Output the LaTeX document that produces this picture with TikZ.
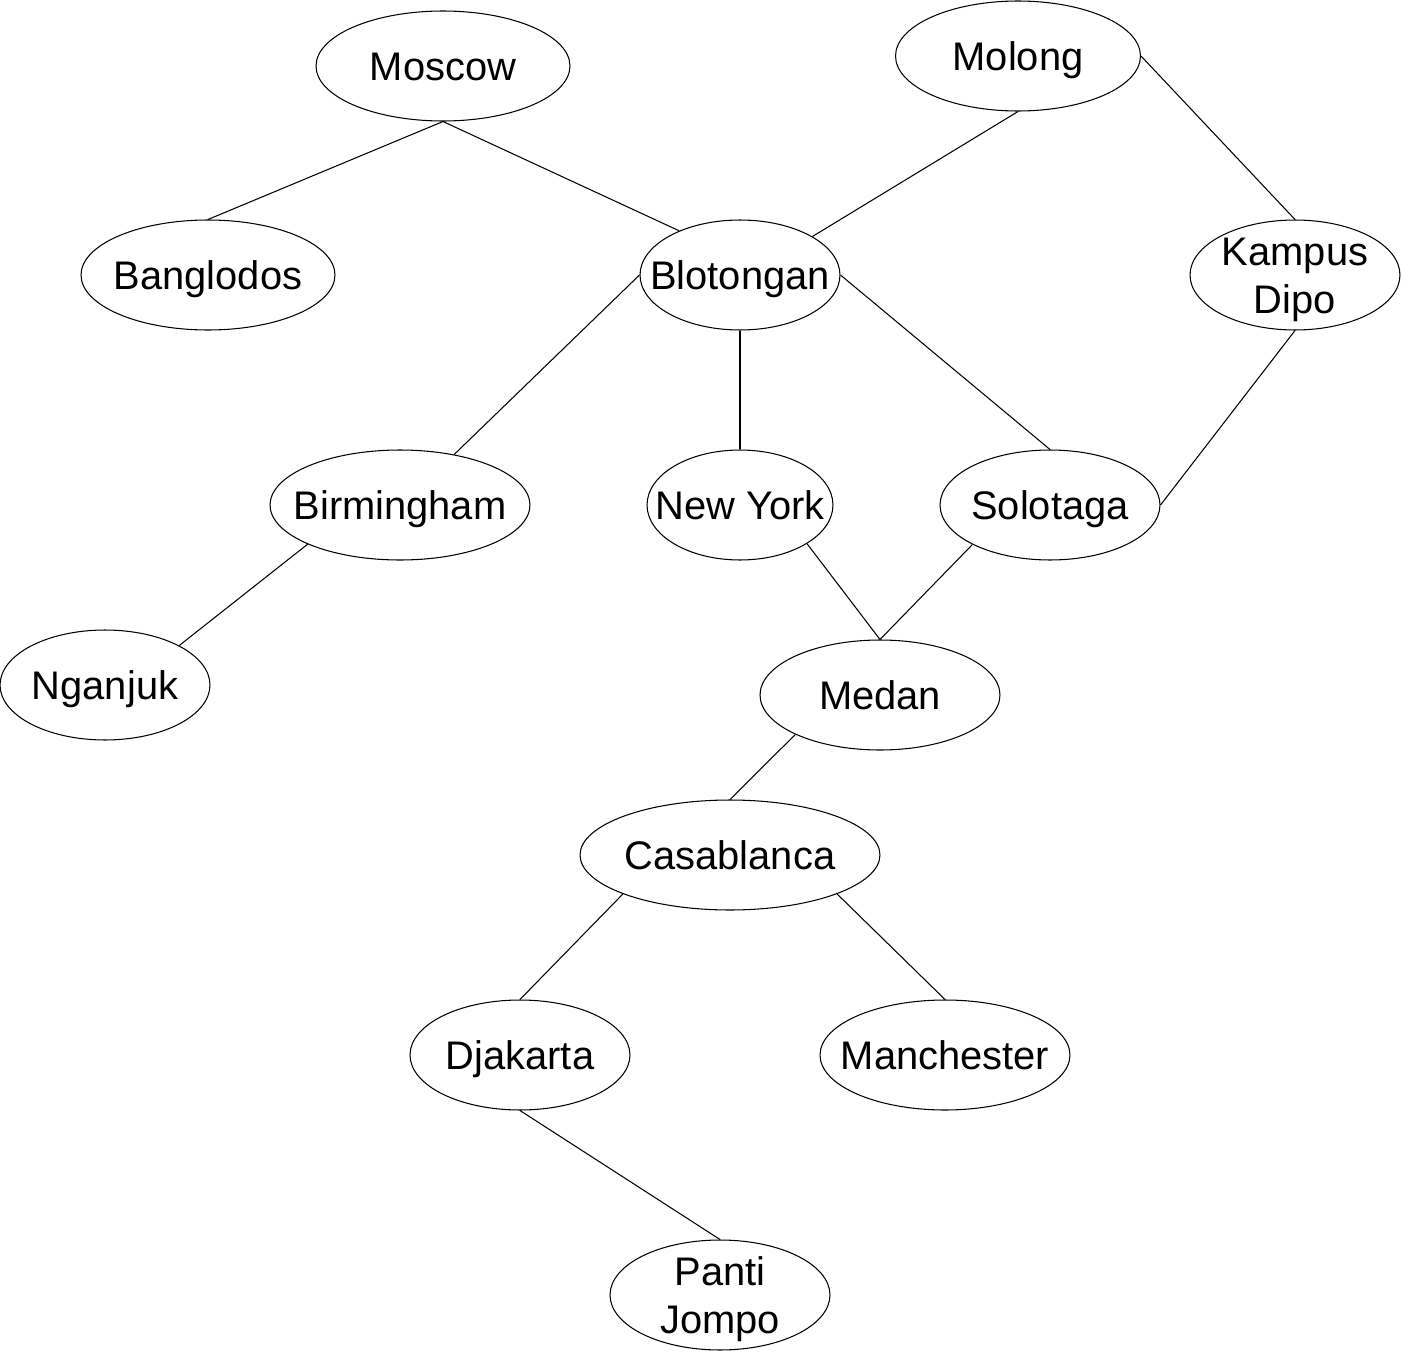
\documentclass[tikz,border=0pt]{standalone}
\usepackage{fontspec}
\setmainfont{Liberation Sans}
\usetikzlibrary{shapes.geometric}
% text of a city, kept out of the size of its ellipse
\newcommand\cityname[1]{\makebox[0pt]{\smash{\raisebox{-0.35em}{\begin{tabular}{@{}c@{}}#1\end{tabular}}}}}
\tikzset{
    city/.style={ellipse, draw, line width=0.6pt, inner sep=0pt,
        minimum height=2.2cm, minimum width=#1,
        font=\fontsize{22.7pt}{27.3pt}\selectfont},
    road/.style={line width=0.6pt}
}
\begin{document}
\begin{tikzpicture}[x=0.02cm, y=-0.02cm]
        \useasboundingbox (0,0) rectangle (1401,1352);
        % top row
        \node[city=5.08cm] (Moscow) at (443,66) {\cityname{Moscow}};
        \node[city=4.9cm] (Molong) at (1018,56) {\cityname{Molong}};
        % second row
        \node[city=5.08cm] (Banglodos) at (208,275) {\cityname{Banglodos}};
        \node[city=4cm] (Blotongan) at (740,275) {\cityname{Blotongan}};
        \node[city=4.2cm] (KampusDipo) at (1295,275) {\cityname{Kampus\\Dipo}};
        % third row
        \node[city=5.2cm] (Birmingham) at (400,505) {\cityname{Birmingham}};
        \node[city=3.72cm] (NewYork) at (740,505) {\cityname{New York}};
        \node[city=4.4cm] (Solotaga) at (1050,505) {\cityname{Solotaga}};
        % lower part
        \node[city=4.2cm] (Nganjuk) at (105,685) {\cityname{Nganjuk}};
        \node[city=4.8cm] (Medan) at (880,695) {\cityname{Medan}};
        \node[city=6cm] (Casablanca) at (730,855) {\cityname{Casablanca}};
        \node[city=4.4cm] (Djakarta) at (520,1055) {\cityname{Djakarta}};
        \node[city=5cm] (Manchester) at (945,1055) {\cityname{Manchester}};
        \node[city=4.4cm] (PantiJompo) at (720,1295) {\cityname{Panti\\Jompo}};
        % roads
        \draw[road] (Moscow.south) -- (Banglodos.north);
        \draw[road] (Moscow.south) -- (Blotongan.144);
        \draw[road] (Molong.south) -- (Blotongan.28);
        \draw[road] (Molong.east) -- (KampusDipo.north);
        \draw[road] (Blotongan.west) -- (Birmingham.43);
        \draw[road] (Blotongan.south) -- (NewYork.north);
        \draw[road] (Blotongan.east) -- (Solotaga.north);
        \draw[road] (KampusDipo.south) -- (Solotaga.east);
        \draw[road] (Birmingham.203) -- (Nganjuk.28);
        \draw[road] (NewYork.-30) -- (Medan.north);
        \draw[road] (Solotaga.207) -- (Medan.north);
        \draw[road] (Medan.205) -- (Casablanca.north);
        \draw[road] (Casablanca.200) -- (Djakarta.north);
        \draw[road] (Casablanca.-20) -- (Manchester.north);
        \draw[road] (Djakarta.south) -- (PantiJompo.north);
\end{tikzpicture}
\end{document}
